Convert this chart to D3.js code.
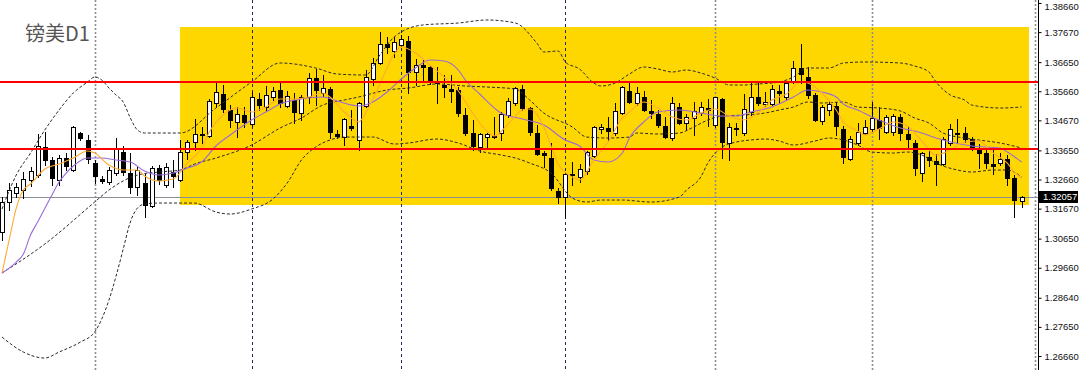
<!DOCTYPE html>
<html>
<head>
<meta charset="utf-8">
<script src="https://cdn.jsdelivr.net/npm/d3@7"></script>
<style>
  html, body { margin: 0; padding: 0; background: #fff; overflow: hidden; }
  svg { display: block; }
</style>
</head>
<body>
<svg id="chart" width="1080" height="370"></svg>
<script>
// GBPUSD daily candles (one entry per bar, oldest first)
const opens = [1.30874,1.31894,1.32200,1.32302,1.32642,1.32812,1.33764,1.33322,1.32642,1.33390,
1.32982,1.34240,1.34002,1.33220,1.32676,1.32574,1.32880,1.33594,1.32880,1.32404,
1.32540,1.31758,1.33050,1.32472,1.32914,1.32642,1.33594,1.33934,1.34206,1.34138,
1.35260,1.35566,1.35022,1.34614,1.34852,1.34546,1.35396,1.35124,1.35464,1.35702,
1.35158,1.35362,1.34920,1.35464,1.36110,1.35600,1.35736,1.34206,1.34104,1.34478,
1.34002,1.35158,1.36076,1.36620,1.37266,1.37028,1.37232,1.37368,1.36314,1.36552,
1.36484,1.36008,1.35872,1.35736,1.35702,1.34852,1.34240,1.33764,1.34104,1.34104,
1.34240,1.34852,1.35260,1.35736,1.35090,1.34240,1.33560,1.33390,1.32268,1.32064,
1.32846,1.32744,1.32948,1.33458,1.34376,1.34410,1.34240,1.34920,1.35668,1.35260,
1.35464,1.34988,1.34886,1.34478,1.34070,1.35124,1.34580,1.34750,1.34920,1.35090,
1.34512,1.35396,1.33900,1.34410,1.34240,1.34954,1.35464,1.35226,1.35226,1.35668,
1.35464,1.36008,1.36450,1.36144,1.35532,1.34648,1.35022,1.35158,1.34376,1.33356,
1.33900,1.34240,1.34376,1.34682,1.34274,1.34274,1.34784,1.34206,1.33900,1.32880,
1.33424,1.33288,1.33186,1.33900,1.34240,1.34240,1.34036,1.33696,1.33560,1.33186,
1.33220,1.33356,1.32710,1.31928];
const highs = [1.32064,1.32540,1.32540,1.32914,1.33084,1.34206,1.34274,1.33424,1.33492,1.33560,
1.34478,1.34274,1.34172,1.33322,1.32778,1.33084,1.34070,1.33798,1.33560,1.33084,
1.32880,1.33118,1.33152,1.33220,1.33322,1.34002,1.34002,1.34716,1.34444,1.35396,
1.35940,1.35872,1.35192,1.35124,1.35124,1.35634,1.35600,1.35838,1.35804,1.35940,
1.35668,1.35600,1.35532,1.36280,1.36416,1.36212,1.35804,1.34342,1.34750,1.35022,
1.35294,1.36382,1.36790,1.37674,1.37504,1.37504,1.37572,1.37538,1.36756,1.36722,
1.36518,1.36484,1.36212,1.36212,1.35804,1.35090,1.34682,1.34240,1.34240,1.34784,
1.34954,1.35430,1.35804,1.35872,1.35124,1.34512,1.33628,1.33900,1.32370,1.32914,
1.33254,1.33186,1.33628,1.34478,1.34546,1.34784,1.35260,1.35838,1.35940,1.35804,
1.35668,1.35362,1.35022,1.34784,1.35464,1.35260,1.34886,1.35294,1.35294,1.35396,
1.35464,1.35430,1.34580,1.34580,1.35566,1.35940,1.35940,1.35634,1.35872,1.35872,
1.36008,1.36688,1.37266,1.36484,1.35600,1.35192,1.35328,1.35294,1.34478,1.34138,
1.34580,1.34682,1.35294,1.35124,1.34852,1.34886,1.34886,1.34444,1.34002,1.33594,
1.33628,1.33526,1.34104,1.34546,1.34716,1.34444,1.34104,1.33866,1.33730,1.33662,
1.33560,1.33492,1.32812,1.32098];
const lows = [1.30602,1.31622,1.32064,1.32030,1.32438,1.32744,1.33152,1.32472,1.32472,1.32982,
1.32948,1.34002,1.33220,1.32540,1.32540,1.32506,1.32812,1.32812,1.32200,1.32132,
1.31384,1.31724,1.32506,1.32404,1.32404,1.32608,1.33356,1.33662,1.33900,1.34104,
1.35124,1.34954,1.34444,1.34104,1.34444,1.34478,1.35022,1.35022,1.35362,1.35124,
1.35124,1.34580,1.34682,1.35260,1.35192,1.35498,1.34070,1.34070,1.33832,1.34342,
1.33662,1.35124,1.35872,1.36586,1.36960,1.36824,1.37198,1.35600,1.35872,1.36042,
1.35906,1.35260,1.35464,1.35294,1.34818,1.34172,1.33662,1.33594,1.33764,1.34070,
1.34002,1.34784,1.35192,1.35022,1.34172,1.33492,1.33084,1.32302,1.31860,1.31384,
1.32472,1.32574,1.32846,1.33424,1.34240,1.33968,1.34172,1.34886,1.35260,1.35192,
1.34988,1.34750,1.34444,1.34070,1.34002,1.34546,1.34342,1.34172,1.34852,1.34478,
1.34444,1.33390,1.33322,1.34172,1.34172,1.34852,1.35192,1.35158,1.35192,1.35260,
1.35396,1.35940,1.35940,1.35430,1.34648,1.34546,1.34852,1.34172,1.33220,1.33322,
1.33832,1.34206,1.34274,1.34036,1.34240,1.34172,1.34002,1.33730,1.32812,1.32608,
1.33118,1.32472,1.33152,1.33832,1.33934,1.33934,1.33662,1.33050,1.33050,1.32846,
1.33152,1.32472,1.31384,1.31724];
const closes = [1.31894,1.32302,1.32404,1.32676,1.32948,1.33798,1.33322,1.32710,1.33390,1.33118,
1.34444,1.34070,1.33356,1.32778,1.32608,1.32982,1.33696,1.32914,1.32404,1.32982,
1.31792,1.33050,1.32642,1.33084,1.32778,1.33594,1.33934,1.34206,1.34172,1.35328,
1.35634,1.35056,1.34682,1.34886,1.34614,1.35464,1.35192,1.35532,1.35668,1.35260,
1.35498,1.34954,1.35464,1.36110,1.35702,1.35770,1.34274,1.34138,1.34716,1.34410,
1.35260,1.36144,1.36620,1.37266,1.37164,1.37334,1.37436,1.36314,1.36552,1.36484,
1.35974,1.35940,1.35804,1.35668,1.34920,1.34240,1.33798,1.34206,1.34206,1.34138,
1.34886,1.35328,1.35770,1.35090,1.34274,1.33526,1.33492,1.32370,1.32064,1.32846,
1.32812,1.33016,1.33594,1.34444,1.34444,1.34308,1.34988,1.35804,1.35294,1.35600,
1.35022,1.34920,1.34512,1.34104,1.35260,1.34580,1.34784,1.34988,1.35124,1.35022,
1.35464,1.33934,1.34444,1.34376,1.35056,1.35464,1.35260,1.35294,1.35736,1.35600,
1.35940,1.36450,1.36246,1.35532,1.34682,1.35124,1.35226,1.34478,1.33424,1.34036,
1.34274,1.34444,1.34750,1.34410,1.34784,1.34818,1.34240,1.34036,1.33050,1.33560,
1.33322,1.33186,1.34036,1.34376,1.34206,1.34036,1.33730,1.33560,1.33220,1.33118,
1.33356,1.32710,1.31962,1.32057];

// Indicator lines, sampled as [bar, price]
const sma5 = [[0,1.29480],[1,1.30602],[2,1.31690],[3,1.32302],[4,1.32506],[6,1.33016],[8,1.33186],[10,1.33390],[12,1.33628],[13,1.33560],[15,1.33152],[17,1.32982],[19,1.32982],[20,1.32778],[22,1.32608],[24,1.32676],[26,1.33220],[28,1.33730],[29,1.34240],[31,1.34852],[33,1.35090],[35,1.34954],[37,1.35124],[39,1.35396],[41,1.35396],[43,1.35464],[45,1.35600],[46,1.35464],[48,1.34954],[50,1.34614],[51,1.34920],[53,1.35906],[55,1.36926],[56,1.37164],[58,1.36960],[60,1.36552],[62,1.36144],[64,1.35668],[66,1.34920],[68,1.34308],[69,1.34138],[71,1.34546],[73,1.35022],[74,1.35056],[76,1.34444],[77,1.33798],[78,1.33186],[80,1.32744],[81,1.32642],[83,1.33322],[85,1.33934],[87,1.34750],[88,1.34954],[90,1.35294],[92,1.35090],[94,1.34784],[96,1.34682],[98,1.34920],[100,1.35056],[102,1.34818],[104,1.34682],[106,1.34920],[108,1.35362],[110,1.35566],[112,1.35974],[113,1.35940],[115,1.35600],[117,1.35022],[118,1.34614],[120,1.34308],[121,1.34172],[123,1.34376],[125,1.34614],[127,1.34478],[129,1.33968],[131,1.33492],[133,1.33662],[135,1.33934],[137,1.33968],[139,1.33560],[141,1.33220],[142,1.32914],[143,1.32710]];
const sma10 = [[0,1.29480],[2,1.29854],[3,1.30126],[4,1.30772],[5,1.31214],[7,1.32132],[8,1.32574],[9,1.32880],[10,1.33118],[12,1.33390],[14,1.33390],[16,1.33322],[18,1.33254],[20,1.32948],[22,1.32812],[24,1.32880],[26,1.33050],[28,1.33254],[30,1.33798],[32,1.34172],[35,1.34682],[37,1.34954],[39,1.35226],[42,1.35396],[45,1.35464],[47,1.35328],[50,1.35158],[52,1.35294],[54,1.35634],[56,1.36076],[58,1.36450],[60,1.36722],[62,1.36688],[64,1.36382],[65,1.36042],[67,1.35566],[70,1.34920],[73,1.34716],[76,1.34512],[79,1.34002],[81,1.33798],[83,1.33322],[85,1.33254],[87,1.33560],[88,1.34070],[90,1.34614],[92,1.34954],[95,1.35022],[98,1.34920],[101,1.34818],[103,1.34818],[105,1.34954],[108,1.35124],[111,1.35464],[113,1.35702],[115,1.35634],[117,1.35464],[118,1.35226],[120,1.35022],[123,1.34682],[126,1.34410],[128,1.34308],[132,1.34002],[136,1.33798],[140,1.33730],[141,1.33594],[143,1.33254]];
const bbUpper = [[0,1.31656],[2,1.32812],[4,1.33560],[6,1.34342],[8,1.35022],[10,1.35600],[12,1.35974],[13,1.36144],[14,1.36042],[15,1.35770],[16,1.35532],[17,1.35294],[18,1.34750],[19,1.34342],[20,1.34240],[25,1.34240],[30,1.35090],[35,1.35974],[39,1.36620],[44,1.36450],[47,1.36246],[51,1.36212],[53,1.36892],[55,1.37504],[59,1.37912],[64,1.37980],[68,1.38082],[72,1.37980],[75,1.37300],[76,1.36994],[78,1.37028],[79,1.36654],[81,1.36416],[83,1.35940],[84,1.35838],[86,1.35940],[88,1.36246],[90,1.36484],[92,1.36416],[94,1.36314],[96,1.36382],[98,1.36280],[100,1.36110],[102,1.35872],[104,1.35872],[106,1.35906],[109,1.35974],[111,1.36144],[113,1.36450],[116,1.36450],[118,1.36620],[121,1.36654],[126,1.36620],[128,1.36518],[130,1.36314],[131,1.35974],[133,1.35532],[135,1.35362],[136,1.35192],[140,1.35090],[143,1.35124]];
const bbMiddle = [[0,1.29480],[6,1.30466],[13,1.31894],[15,1.32302],[19,1.32812],[22,1.32914],[25,1.32982],[27,1.33186],[30,1.33390],[35,1.33832],[39,1.34410],[42,1.34750],[45,1.35192],[48,1.35362],[50,1.35464],[54,1.35702],[57,1.35770],[61,1.35906],[65,1.35838],[68,1.35804],[72,1.35736],[74,1.35362],[76,1.34920],[80,1.34444],[82,1.34104],[85,1.34070],[88,1.34104],[89,1.34240],[92,1.34206],[95,1.34240],[97,1.34444],[99,1.34682],[101,1.34818],[104,1.34852],[107,1.34920],[109,1.35022],[111,1.35124],[113,1.35294],[115,1.35260],[118,1.35294],[120,1.35124],[123,1.35090],[126,1.34988],[128,1.34750],[130,1.34580],[132,1.34240],[135,1.34070],[137,1.34002],[140,1.33900],[143,1.33730]];
const bbLower = [[0,1.27304],[3,1.26794],[6,1.26590],[8,1.26794],[11,1.27134],[13,1.27474],[15,1.28562],[16,1.29378],[17,1.30296],[18,1.31214],[19,1.31690],[20,1.31826],[22,1.31860],[27,1.31860],[30,1.31554],[32,1.31486],[35,1.31656],[38,1.31996],[40,1.32540],[42,1.33322],[44,1.33764],[46,1.34002],[48,1.34104],[52,1.34104],[55,1.33866],[57,1.33900],[61,1.34036],[64,1.33900],[67,1.33628],[70,1.33492],[72,1.33390],[74,1.33220],[77,1.32880],[80,1.32030],[82,1.31894],[84,1.31962],[87,1.31962],[91,1.31894],[95,1.32064],[96,1.32302],[98,1.32744],[99,1.33220],[101,1.33764],[103,1.33934],[105,1.34002],[107,1.34036],[109,1.33968],[111,1.33832],[114,1.33968],[116,1.34070],[118,1.34002],[120,1.33832],[122,1.33594],[125,1.33560],[127,1.33594],[129,1.33492],[131,1.33220],[134,1.32982],[136,1.32914],[139,1.32982],[141,1.32982],[143,1.32744]];

// Price axis labels
const axisTicks = [1.38660,1.37670,1.36650,1.35660,1.34670,1.33650,1.32660,1.31670,1.30650,1.29660,1.28640,1.27650,1.26660];
const lastPrice = 1.32057;
const levels = [1.3597, 1.3370];          // horizontal lines
const zoneBars = [25, 144];               // shaded range, bars
const zonePrices = [1.3784, 1.3179];      // shaded range, prices
const gridBars = [13, 100, 122, 144.9];   // dotted grid
const separatorBars = [35, 56, 79];       // dashed separators
const title = "镑美D1";

const W = 1080, H = 370, axisX = 1038;
const svg = d3.select("#chart");

const x = d3.scaleLinear().domain([0, 143]).range([2, 1021.6]);
const y = d3.scaleLinear().domain([1.2666, 1.3866]).range([356, 3]);
const px = v => Math.round(x(v));
const py = v => Math.round(y(v));

// shaded zone
svg.append("rect")
  .attr("x", px(zoneBars[0]))
  .attr("y", py(zonePrices[0]))
  .attr("width", px(zoneBars[1]) - px(zoneBars[0]))
  .attr("height", py(zonePrices[1]) - py(zonePrices[0]))
  .attr("fill", "#FFD700");

// vertical grid and separators
svg.append("g").selectAll("line").data(gridBars).join("line")
  .attr("x1", d => px(d) + 0.5).attr("x2", d => px(d) + 0.5)
  .attr("y1", 0).attr("y2", H)
  .attr("stroke", "#8e8e8e").attr("stroke-width", 1.6)
  .attr("stroke-dasharray", "2,2");
svg.append("g").selectAll("line").data(separatorBars).join("line")
  .attr("x1", d => px(d) + 0.5).attr("x2", d => px(d) + 0.5)
  .attr("y1", 0).attr("y2", H)
  .attr("stroke", "#1f2a55").attr("stroke-width", 1)
  .attr("stroke-dasharray", "3,3");

// last price line
svg.append("line")
  .attr("x1", 0).attr("x2", axisX)
  .attr("y1", py(lastPrice) + 0.5).attr("y2", py(lastPrice) + 0.5)
  .attr("stroke", "#8a8f98").attr("stroke-width", 1);

// candles
const idx = d3.range(opens.length);
const candles = svg.append("g");
candles.selectAll("line").data(idx).join("line")
  .attr("x1", i => px(i) + 0.5).attr("x2", i => px(i) + 0.5)
  .attr("y1", i => py(highs[i])).attr("y2", i => py(lows[i]) + 1)
  .attr("stroke", "#000").attr("stroke-width", 1);
candles.selectAll("rect").data(idx).join("rect")
  .attr("x", i => px(i) - 1.5)
  .attr("y", i => py(Math.max(opens[i], closes[i])) + 0.5)
  .attr("width", 4)
  .attr("height", i => Math.max(py(Math.min(opens[i], closes[i])) - py(Math.max(opens[i], closes[i])), 0.01))
  .attr("fill", i => closes[i] >= opens[i] ? "#fff" : "#000")
  .attr("stroke", "#000").attr("stroke-width", 1);

// indicator lines
const line = d3.line().x(d => x(d[0])).y(d => y(d[1])).curve(d3.curveMonotoneX);
[bbUpper, bbMiddle, bbLower].forEach(s => {
  svg.append("path").attr("d", line(s))
    .attr("fill", "none").attr("stroke", "#2b2b2b")
    .attr("stroke-width", 1).attr("stroke-dasharray", "3,2");
});
svg.append("path").attr("d", line(sma10))
  .attr("fill", "none").attr("stroke", "#9b6bd8").attr("stroke-width", 1.1);
svg.append("path").attr("d", line(sma5))
  .attr("fill", "none").attr("stroke", "#ffaa33").attr("stroke-width", 1.1);

// horizontal levels
svg.append("g").selectAll("line").data(levels).join("line")
  .attr("x1", 0).attr("x2", axisX)
  .attr("y1", d => py(d)).attr("y2", d => py(d))
  .attr("stroke", "#ff0000").attr("stroke-width", 2);

// price axis
svg.append("rect").attr("x", axisX + 1).attr("y", 0)
  .attr("width", W - axisX).attr("height", H).attr("fill", "#fff");
svg.append("line")
  .attr("x1", axisX + 0.5).attr("x2", axisX + 0.5)
  .attr("y1", 0).attr("y2", H)
  .attr("stroke", "#000").attr("stroke-width", 1);
const axis = d3.axisRight(y).tickValues(axisTicks)
  .tickFormat(d3.format(".5f")).tickSize(3).tickPadding(3);
const ag = svg.append("g").attr("transform", `translate(${axisX + 0.5},0)`).call(axis);
ag.select(".domain").remove();
ag.selectAll(".tick line").attr("stroke", "#000");
ag.selectAll(".tick text")
  .attr("fill", "#111")
  .attr("y", d => (y(d) < 6 ? 6 - y(d) : 0))
  .style("font-family", "'Liberation Sans', Arial, sans-serif")
  .style("font-size", "9.5px");

// last price marker
const lp = svg.append("g").attr("transform", `translate(${axisX + 1},${py(lastPrice)})`);
lp.append("rect").attr("x", 0).attr("y", -6).attr("width", 39).attr("height", 12).attr("fill", "#000");
lp.append("text").attr("x", 4).attr("y", 0).attr("dy", "0.35em")
  .attr("fill", "#fff")
  .style("font-family", "'Liberation Sans', Arial, sans-serif")
  .style("font-size", "9.5px")
  .text(d3.format(".5f")(lastPrice));

// title
svg.append("text").attr("x", 25).attr("y", 41)
  .attr("fill", "#555")
  .style("font-family", "'Noto Sans CJK SC', sans-serif")
  .style("font-size", "20px")
  .text(title);
</script>
</body>
</html>
